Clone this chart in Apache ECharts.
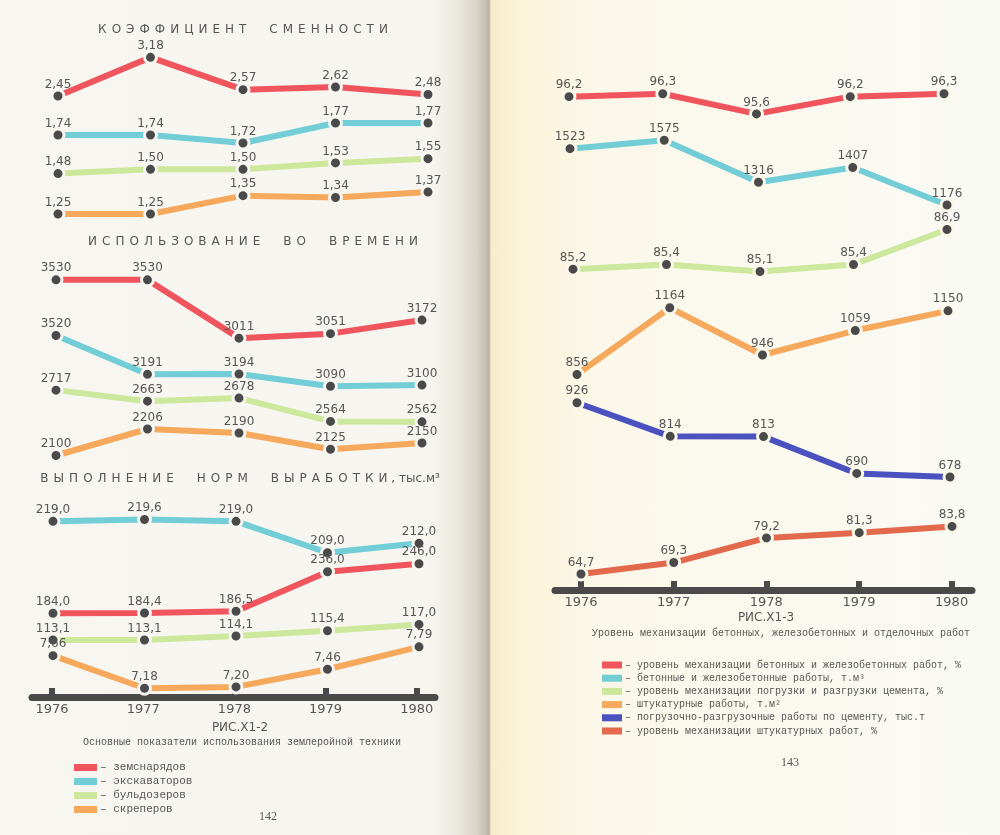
<!DOCTYPE html>
<html>
<head>
<meta charset="utf-8">
<script src="https://cdn.jsdelivr.net/npm/echarts@6.0.0/dist/echarts.min.js"></script>
<style>
html,body{margin:0;padding:0;}
#chart{width:1000px;height:835px;
background:linear-gradient(to right,#f7f6f1 0px,#f6f5ef 430px,#ebe8df 458px,#d9d4c7 476px,#c4bdae 486px,#b8b09f 489px,#f8eccb 491px,#fbf3d8 520px,#fbf8ea 600px,#fafaf5 1000px);}
</style>
</head>
<body>
<div id="chart"></div>
<script>
// ---------- data ----------
const years = ['1976', '1977', '1978', '1979', '1980'];
const yearValues = [1976, 1977, 1978, 1979, 1980];

// left page (РИС.Х1-2)
const leftNames = ['земснарядов', 'экскаваторов', 'бульдозеров', 'скреперов'];
const shiftDredgers   = [2.45, 3.18, 2.57, 2.62, 2.48];
const shiftExcavators = [1.74, 1.74, 1.72, 1.77, 1.77];
const shiftBulldozers = [1.48, 1.50, 1.50, 1.53, 1.55];
const shiftScrapers   = [1.25, 1.25, 1.35, 1.34, 1.37];
const timeDredgers    = [3530, 3530, 3011, 3051, 3172];
const timeExcavators  = [3520, 3191, 3194, 3090, 3100];
const timeBulldozers  = [2717, 2663, 2678, 2564, 2562];
const timeScrapers    = [2100, 2206, 2190, 2125, 2150];
const normExcavators  = [219.0, 219.6, 219.0, 209.0, 212.0];
const normDredgers    = [184.0, 184.4, 186.5, 236.0, 246.0];
const normBulldozers  = [113.1, 113.1, 114.1, 115.4, 117.0];
const normScrapers    = [7.66, 7.18, 7.20, 7.46, 7.79];

// right page (РИС.Х1-3)
const rightNames = [
  'уровень механизации бетонных и железобетонных работ, %',
  'бетонные и железобетонные работы, т.м³',
  'уровень механизации погрузки и разгрузки цемента, %',
  'штукатурные работы, т.м²',
  'погрузочно-разгрузочные работы по цементу, тыс.т',
  'уровень механизации штукатурных работ, %'
];
const concreteMech = [96.2, 96.3, 95.6, 96.2, 96.3];
const concreteWork = [1523, 1575, 1316, 1407, 1176];
const cementMech   = [85.2, 85.4, 85.1, 85.4, 86.9];
const plasterWork  = [856, 1164, 946, 1059, 1150];
const cementWork   = [926, 814, 813, 690, 678];
const plasterMech  = [64.7, 69.3, 79.2, 81.3, 83.8];

// ---------- styles / layout ----------
const RED = '#f0545c', CYAN = '#72cdd6', GREEN = '#cde79c', ORANGE = '#f6a95c', BLUE = '#4b52bf', BRICK = '#e2694c';
const leftColors = [RED, CYAN, GREEN, ORANGE];
const rightColors = [RED, CYAN, GREEN, ORANGE, BLUE, BRICK];
const DOT = '#4a4a4a';
const TXT = '#565656';

const plots = [
  // panel 1: коэффициент сменности
  {name: leftNames[0], data: shiftDredgers,   color: RED,    dec: 2, left: 58, right: 572, top: 51,    height: 53,   min: 2.3,  max: 3.3,  bg: '#f7f6f1'},
  {name: leftNames[1], data: shiftExcavators, color: CYAN,   dec: 2, left: 58, right: 572, top: 111,   height: 40,   min: 1.70, max: 1.80, bg: '#f7f6f1'},
  {name: leftNames[2], data: shiftBulldozers, color: GREEN,  dec: 2, left: 58, right: 572, top: 148,   height: 32,   min: 1.45, max: 1.60, bg: '#f7f6f1'},
  {name: leftNames[3], data: shiftScrapers,   color: ORANGE, dec: 2, left: 58, right: 572, top: 186.5, height: 36.6, min: 1.2,  max: 1.4,  bg: '#f7f6f1'},
  // panel 2: использование во времени
  {name: leftNames[0], data: timeDredgers,   color: RED,    dec: 0, left: 56, right: 578, top: 272,   height: 73,   min: 2950, max: 3600, bg: '#f7f6f1'},
  {name: leftNames[1], data: timeExcavators, color: CYAN,   dec: 0, left: 56, right: 578, top: 326,   height: 65,   min: 3050, max: 3600, bg: '#f7f6f1'},
  {name: leftNames[2], data: timeBulldozers, color: GREEN,  dec: 0, left: 56, right: 578, top: 383.4, height: 51.1, min: 2500, max: 2750, bg: '#f7f6f1'},
  {name: leftNames[3], data: timeScrapers,   color: ORANGE, dec: 0, left: 56, right: 578, top: 418,   height: 50,   min: 2050, max: 2250, bg: '#f7f6f1'},
  // panel 3: выполнение норм выработки
  {name: leftNames[1], data: normExcavators, color: CYAN,   dec: 1, left: 53, right: 581, top: 502.5, height: 62.8, min: 205, max: 225, bg: '#f7f6f1'},
  {name: leftNames[0], data: normDredgers,   color: RED,    dec: 1, left: 53, right: 581, top: 560.5, height: 56,   min: 180, max: 250, bg: '#f7f6f1'},
  {name: leftNames[2], data: normBulldozers, color: GREEN,  dec: 1, left: 53, right: 581, top: 612.4, height: 40,   min: 110, max: 120, bg: '#f7f6f1'},
  {name: leftNames[3], data: normScrapers,   color: ORANGE, dec: 2, left: 53, right: 581, top: 632.6, height: 67.9, min: 7,   max: 8,   bg: '#f7f6f1'},
  // right page
  {name: rightNames[0], data: concreteMech, color: RED,    dec: 1, left: 569, right: 56, top: 73.7,  height: 57.4, min: 95,   max: 97,   bg: '#fbf8ea'},
  {name: rightNames[1], data: concreteWork, color: CYAN,   dec: 0, left: 570, right: 53, top: 136.2, height: 73,   min: 1150, max: 1600, bg: '#fbf8ea'},
  {name: rightNames[2], data: cementMech,   color: GREEN,  dec: 1, left: 573, right: 53, top: 227.2, height: 46.6, min: 85,   max: 87,   bg: '#fbf8ea'},
  {name: rightNames[3], data: plasterWork,  color: ORANGE, dec: 0, left: 577, right: 52, top: 300,   height: 86.6, min: 800,  max: 1200, bg: '#fbf8ea'},
  {name: rightNames[4], data: cementWork,   color: BLUE,   dec: 0, left: 577, right: 50, top: 395.6, height: 89.8, min: 650,  max: 950,  bg: '#fbf8ea'},
  {name: rightNames[5], data: plasterMech,  color: BRICK,  dec: 1, left: 581, right: 48, top: 511,   height: 74.7, min: 60,   max: 90,   bg: '#fbf8ea'}
];

const fmt = (v, d) => v.toFixed(d).replace('.', ',');

const grids = [], xAxes = [], yAxes = [], series = [];
plots.forEach((p, i) => {
  grids.push({left: p.left, right: p.right, top: p.top, height: p.height});
  xAxes.push({type: 'category', data: years, gridIndex: i, boundaryGap: false, show: false});
  yAxes.push({type: 'value', gridIndex: i, min: p.min, max: p.max, show: false});
  series.push({
    type: 'line', name: p.name, xAxisIndex: i, yAxisIndex: i, data: p.data,
    color: p.color,
    symbol: 'circle', symbolSize: 12,
    lineStyle: {color: p.color, width: 6, cap: 'butt'},
    itemStyle: {color: DOT, borderColor: p.bg, borderWidth: 3},
    label: {show: true, position: 'top', distance: -2, color: TXT, fontSize: 12,
            fontFamily: 'DejaVu Sans', formatter: o => fmt(o.value, p.dec)},
    emphasis: {disabled: true},
    z: 3
  });
});

// year axes (thick bars)
const axisDefs = [
  {left: 32, width: 403, top: 696, min: 1975.78, max: 1980.2},
  {left: 555, width: 417, top: 589, min: 1975.72, max: 1980.22}
];
axisDefs.forEach(a => {
  const gi = grids.length;
  grids.push({left: a.left, width: a.width, top: a.top, height: 1});
  xAxes.push({
    type: 'value', gridIndex: gi, min: a.min, max: a.max, position: 'bottom',
    splitLine: {show: false},
    axisLine: {show: true, lineStyle: {color: DOT, width: 7}},
    axisTick: {show: true, inside: true, length: 9, lineStyle: {color: DOT, width: 6}, customValues: yearValues},
    axisLabel: {show: true, inside: false, margin: 6, color: TXT, fontSize: 13, fontFamily: 'DejaVu Sans',
                customValues: yearValues, formatter: v => String(v)}
  });
  yAxes.push({type: 'value', gridIndex: gi, show: false});
});

const legendItem = (n, c) => ({name: n, icon: 'rect', itemStyle: {color: c, borderWidth: 0}});
const titleStyle = (size, fam) => ({fontSize: size, fontWeight: 'normal', color: TXT, fontFamily: fam});
// letter-spaced heading text
const spaced = s => s.split(' ').map(w => w.split('').join(' \u200A')).join('      ');

const option = {
  animation: false,
  backgroundColor: 'transparent',
  title: [
    {text: spaced('КОЭФФИЦИЕНТ СМЕННОСТИ'), left: 243, top: 24, textAlign: 'center', padding: 0,
     textStyle: titleStyle(12, 'DejaVu Sans')},
    {text: spaced('ИСПОЛЬЗОВАНИЕ ВО ВРЕМЕНИ'), left: 253, top: 236, textAlign: 'center', padding: 0,
     textStyle: titleStyle(12, 'DejaVu Sans')},
    {text: spaced('ВЫПОЛНЕНИЕ НОРМ ВЫРАБОТКИ') + ' , тыс.м³', left: 240, top: 473, textAlign: 'center', padding: 0,
     textStyle: titleStyle(12, 'DejaVu Sans')},
    {text: 'РИС.Х1-2', left: 240, top: 722, textAlign: 'center', padding: 0, textStyle: titleStyle(12, 'DejaVu Sans')},
    {text: 'Основные показатели использования землеройной техники', left: 242, top: 737, textAlign: 'center', padding: 0,
     textStyle: titleStyle(10, 'Liberation Mono')},
    {text: '142', left: 268, top: 811, textAlign: 'center', padding: 0, textStyle: titleStyle(12, 'Liberation Serif')},
    {text: 'РИС.Х1-3', left: 766, top: 612, textAlign: 'center', padding: 0, textStyle: titleStyle(12, 'DejaVu Sans')},
    {text: 'Уровень механизации бетонных, железобетонных и отделочных работ', left: 781, top: 628, textAlign: 'center', padding: 0,
     textStyle: titleStyle(10, 'Liberation Mono')},
    {text: '143', left: 790, top: 757, textAlign: 'center', padding: 0, textStyle: titleStyle(12, 'Liberation Serif')}
  ],
  legend: [
    {orient: 'vertical', left: 74, top: 762, itemWidth: 23, itemHeight: 7, itemGap: 3, padding: 0,
     data: leftNames.map((n, i) => legendItem(n, leftColors[i])),
     formatter: n => '– ' + n,
     textStyle: {fontSize: 11, color: TXT, fontFamily: 'Liberation Mono', padding: [0, 0, 0, -2]}},
    {orient: 'vertical', left: 602, top: 660, itemWidth: 20, itemHeight: 7, itemGap: 3.2, padding: 0,
     data: rightNames.map((n, i) => legendItem(n, rightColors[i])),
     formatter: n => '– ' + n,
     textStyle: {fontSize: 10, color: TXT, fontFamily: 'Liberation Mono', padding: [0, 0, 0, -2]}}
  ],
  grid: grids,
  xAxis: xAxes,
  yAxis: yAxes,
  series: series
};

const chart = echarts.init(document.getElementById('chart'), null, {renderer: 'canvas'});
chart.setOption(option);
</script>
</body>
</html>
